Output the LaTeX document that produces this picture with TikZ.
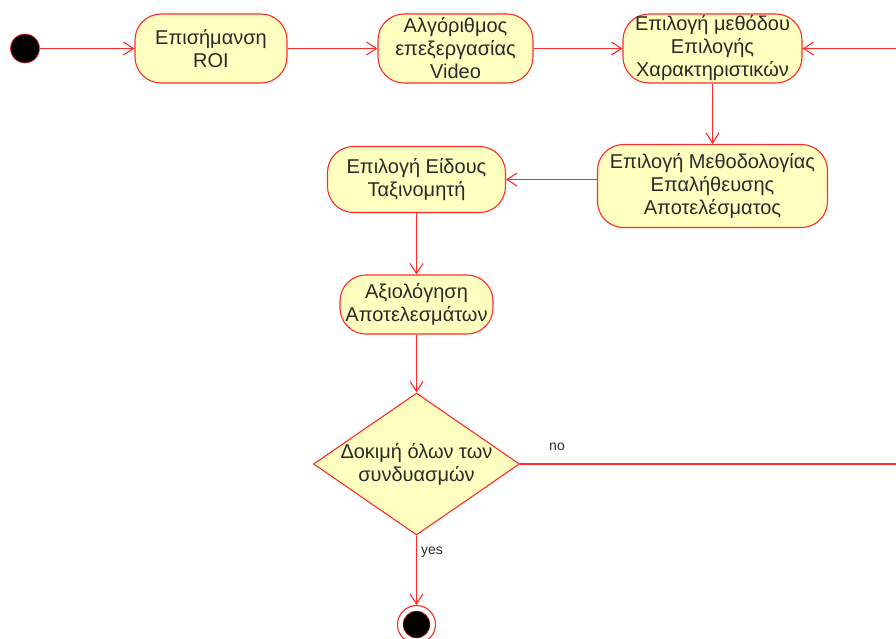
\documentclass[tikz,border=0pt]{standalone}
\usepackage{fontspec}
\setmainfont{Liberation Sans}
\usetikzlibrary{arrows.meta,shapes.geometric}
\definecolor{umlred}{HTML}{FF2A2A}
\definecolor{actfill}{HTML}{FFFFC0}
\definecolor{txt}{HTML}{2A2A2A}
\begin{document}
\begin{tikzpicture}[x=1pt,y=-1pt,
  act/.style={draw=umlred, fill=actfill, rounded corners=26pt, line width=1.1pt,
    align=center, text=txt, font=\fontsize{20}{23}\selectfont, inner sep=0pt},
  decision/.style={diamond, draw=umlred, fill=actfill, line width=1.1pt,
    inner sep=0pt, minimum width=206pt, minimum height=142pt},
  dectext/.style={align=center, text=txt, font=\fontsize{20}{23}\selectfont, inner sep=0pt},
  flow/.style={draw=umlred, line width=1.1pt,
    -{Straight Barb[length=10pt,width=13pt,line width=1.1pt]}},
  lbl/.style={text=txt, font=\fontsize{14}{16}\selectfont, inner sep=0pt}]
\useasboundingbox (0,0) rectangle (896,638);
\clip (0,0) rectangle (896,638);

% activities
\node[act, minimum width=152pt, minimum height=69pt] (roi) at (211,48.5) {Επισήμανση\\ROI};
\node[act, minimum width=155pt, minimum height=69pt] (video) at (455.5,48.5) {Αλγόριθμος\\επεξεργασίας\\Video};
\node[act, minimum width=179pt, minimum height=69pt] (feat) at (712.5,48.5) {Επιλογή μεθόδου\\Επιλογής\\Χαρακτηριστικών};
\node[act, minimum width=230pt, minimum height=83pt] (valid) at (712.5,186) {Επιλογή Μεθοδολογίας\\Επαλήθευσης\\Αποτελέσματος};
\node[act, minimum width=178pt, minimum height=66pt] (clf) at (416.5,179.5) {Επιλογή Είδους\\Ταξινομητή};
\node[act, minimum width=153pt, minimum height=59pt] (eval) at (416.5,304.5) {Αξιολόγηση\\Αποτελεσμάτων};

% decision: the diamond keeps its own size, the question sits on top of it
\node[decision] (dec) at (416.5,464) {};
\node[dectext] (dectxt) at (dec.center) {Δοκιμή όλων των\\συνδυασμών};

% initial and final states
\node[circle, fill=black, draw=umlred, line width=0.6pt, minimum size=29pt, inner sep=0pt] (start) at (25,48.5) {};
\node[circle, fill=white, draw=umlred, line width=1.1pt, minimum size=38pt, inner sep=0pt] (final) at (416.5,624.5) {};
\node[circle, fill=black, draw=umlred, line width=0.5pt, minimum size=27pt, inner sep=0pt] (finaldot) at (final) {};

% loop-back column off the right side
\coordinate (loopx) at (910,0);

% flows
\draw[flow] (start) -- (roi);
\draw[flow] (roi) -- (video);
\draw[flow] (video) -- (feat);
\draw[flow] (feat) -- (valid);
\draw[flow] (valid.west |- clf.east) -- (clf.east);
\draw[flow] (clf) -- (eval);
\draw[flow] (eval) -- (dec);
\draw[flow] (dec) -- (final);
\draw[flow] (dec.east) -- (dec.east -| loopx) |- (feat.east);

% guard labels
\node[lbl] (nolbl) at (557,447) {no};
\node[lbl] (yeslbl) at (432,552) {yes};
\end{tikzpicture}
\end{document}
